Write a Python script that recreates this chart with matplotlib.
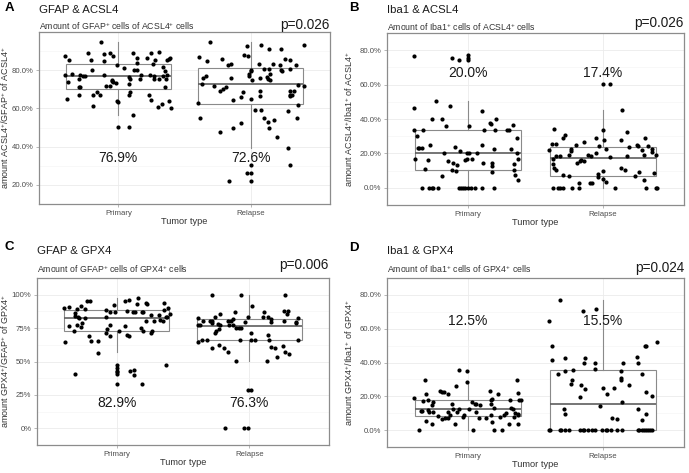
import matplotlib.pyplot as plt

plt.rcParams['font.family'] = ['Liberation Sans', 'DejaVu Sans']
plt.rcParams['mathtext.fontset'] = 'custom'
plt.rcParams['mathtext.rm'] = 'Liberation Sans'
plt.rcParams['mathtext.it'] = 'Liberation Sans:italic'
plt.rcParams['mathtext.bf'] = 'Liberation Sans:bold'

categories = ['Primary', 'Relapse']

# ---- A: GFAP & ACSL4 ----
a_pri_y = [95.0, 87.4, 85.6, 89.0, 85.6, 88.3, 84.8, 89.1, 87.4, 82.7,
           89.0, 86.4, 83.7, 86.4, 89.0, 85.6, 89.6, 83.2, 81.9, 85.6,
           86.1, 86.2, 78.2, 77.4, 73.6, 75.2, 77.6, 77.1, 76.8, 80.0,
           77.6, 75.0, 74.2, 73.9, 73.1, 72.0, 71.8, 81.1, 76.2, 75.5,
           72.6, 80.2, 80.0, 77.4, 75.2, 77.6, 75.2, 76.8, 75.2, 79.4,
           77.1, 75.5, 77.6, 71.0, 71.4, 71.0, 65.1, 66.9, 66.9, 68.6,
           66.9, 61.3, 64.0, 63.5, 66.9, 68.8, 66.9, 64.6, 60.6, 62.1,
           63.8, 60.0, 56.5, 50.1, 50.1]
a_pri_dx = [-0.13, -0.40, -0.37, -0.23, -0.21, -0.11, -0.11, -0.06, -0.04, -0.01,
            0.11, 0.14, 0.14, 0.22, 0.25, 0.28, 0.31, 0.26, 0.34, 0.37,
            0.38, 0.39, -0.35, -0.40, -0.38, -0.30, -0.29, -0.27, -0.25, -0.20,
            -0.11, -0.05, -0.05, -0.04, -0.02, -0.09, -0.06, 0.04, 0.08, 0.09,
            0.08, 0.12, 0.14, 0.17, 0.16, 0.24, 0.27, 0.27, 0.31, 0.35,
            0.34, 0.36, 0.37, 0.35, -0.30, -0.29, -0.39, -0.30, -0.19, -0.16,
            -0.14, -0.19, -0.01, 0.00, 0.08, 0.09, 0.23, 0.25, 0.30, 0.33,
            0.38, 0.40, 0.11, 0.00, 0.08]
a_rel_y = [94.7, 92.8, 93.1, 91.2, 90.9, 93.4, 86.9, 84.6, 85.9, 82.9,
           83.2, 88.0, 87.5, 83.4, 80.6, 80.8, 83.0, 82.7, 86.1, 85.6,
           80.5, 82.9, 80.2, 79.8, 80.3, 79.5, 78.2, 76.8, 75.0, 76.0,
           76.3, 75.5, 75.0, 78.2, 76.0, 77.1, 76.0, 72.8, 71.5, 69.3,
           70.4, 71.2, 68.8, 65.9, 64.3, 65.1, 69.0, 66.7, 69.3, 69.3,
           66.6, 66.9, 67.0, 72.3, 71.5, 61.9, 62.7, 59.2, 59.0, 58.9,
           55.0, 54.9, 53.1, 53.9, 49.9, 49.9, 52.3, 47.5, 55.0, 44.8,
           39.2, 30.6, 30.6, 26.1, 26.1, 21.9, 21.8]
a_rel_dx = [-0.31, -0.03, 0.08, 0.14, 0.23, 0.40, -0.39, -0.33, -0.22, -0.17,
            -0.15, -0.05, -0.02, 0.06, 0.10, 0.14, 0.17, 0.22, 0.26, 0.30,
            0.30, 0.34, 0.23, 0.24, 0.00, 0.00, -0.01, -0.01, 0.01, 0.07,
            0.12, 0.13, 0.15, 0.15, -0.36, -0.34, -0.15, -0.37, -0.28, -0.23,
            -0.21, -0.19, -0.06, -0.07, -0.13, 0.00, 0.07, 0.07, 0.30, 0.33,
            0.30, 0.30, 0.31, 0.36, 0.40, 0.36, -0.40, 0.03, 0.08, 0.28,
            -0.38, 0.10, 0.13, 0.18, 0.14, -0.13, -0.07, -0.23, 0.35, 0.20,
            0.28, 0.30, 0.00, -0.03, 0.00, -0.16, 0.00]

# ---- B: Iba1 & ACSL4 ----
b_pri_y = [76.9, 75.7, 74.5, 77.0, 75.5, 74.5, 50.4, 46.4, 47.8, 44.8,
           40.1, 40.1, 35.8, 35.8, 37.8, 37.1, 40.1, 33.8, 33.8, 33.6,
           33.4, 33.6, 33.8, 36.4, 30.3, 23.1, 23.1, 23.1, 25.1, 24.0,
           21.6, 25.1, 22.6, 29.0, 22.3, 20.3, 20.1, 20.1, 20.1, 20.1,
           16.8, 16.0, 15.8, 14.6, 13.1, 17.0, 16.3, 16.6, 14.3, 14.6,
           12.6, 9.3, 14.1, 16.8, 11.1, 10.1, 10.0, 10.1, 6.8, 7.2,
           4.8, 0, 0, 0, 0, 0, 0, 0, 0, 0,
           0, 0, 0, 0, 0]
b_pri_dx = [-0.40, -0.12, -0.07, 0.00, 0.00, 0.00, -0.24, -0.40, -0.13, 0.10,
            -0.27, -0.19, -0.16, 0.01, 0.16, 0.17, 0.21, -0.40, -0.33, 0.12,
            0.20, 0.29, 0.30, 0.33, -0.38, -0.37, -0.36, -0.34, -0.28, -0.10,
            -0.06, 0.10, 0.19, 0.36, 0.32, -0.18, -0.01, 0.01, 0.07, 0.36,
            -0.39, -0.30, -0.15, -0.11, -0.08, -0.01, -0.02, 0.03, 0.11, 0.18,
            0.18, 0.18, 0.34, 0.37, -0.32, -0.12, -0.09, 0.34, -0.19, 0.35,
            0.37, -0.34, -0.29, -0.27, -0.26, -0.22, -0.07, -0.05, -0.04, -0.02,
            0.00, 0.02, 0.05, 0.10, 0.19]
b_rel_y = [60.2, 60.2, 45.1, 33.9, 30.9, 28.8, 33.6, 29.0, 28.0, 26.8,
           27.6, 32.4, 29.1, 25.3, 25.3, 25.1, 24.1, 22.6, 23.8, 25.1,
           24.5, 22.1, 24.3, 22.6, 22.0, 22.3, 21.3, 18.5, 18.5, 18.8,
           19.0, 18.5, 20.1, 18.1, 18.6, 19.1, 19.3, 20.6, 16.5, 14.0,
           16.3, 15.6, 15.8, 14.3, 11.3, 10.5, 11.6, 10.3, 10.0, 9.0,
           7.0, 8.5, 7.3, 7.0, 8.2, 6.2, 5.2, 3.2, 4.7, 2.8,
           2.8, 2.8, 0, 0, 0, 0, 0, 0, 0, 0, 0, 0]
b_rel_dx = [0.00, 0.05, 0.14, -0.36, -0.28, -0.30, 0.00, -0.05, 0.01, -0.14,
            0.13, 0.18, 0.31, -0.38, -0.35, -0.20, -0.03, 0.02, 0.19, 0.25,
            0.26, 0.29, 0.33, 0.36, -0.40, -0.24, -0.24, -0.35, -0.32, -0.25,
            -0.11, -0.09, -0.05, 0.05, 0.18, 0.30, 0.39, 0.36, -0.37, -0.37,
            -0.16, -0.14, -0.17, -0.19, -0.36, -0.35, 0.13, 0.16, 0.00, 0.27,
            0.24, 0.38, -0.30, -0.25, -0.04, -0.04, 0.00, 0.02, 0.30, -0.18,
            -0.10, -0.08, -0.37, -0.33, -0.32, -0.30, -0.23, -0.18, 0.09, 0.32, 0.39, 0.40]

# ---- C: GFAP & GPX4 ----
c_pri_y = [95.4, 95.4, 95.2, 96.1, 97.6, 90.4, 91.0, 89.5, 91.5, 89.5,
           86.2, 84.1, 82.3, 83.4, 82.3, 88.9, 87.1, 92.4, 86.7, 83.2,
           88.0, 87.1, 86.7, 92.8, 87.1, 87.1, 93.9, 93.4, 84.6, 80.6,
           80.1, 85.0, 81.0, 80.6, 93.9, 88.9, 90.2, 85.2, 83.0, 83.2,
           76.2, 72.7, 77.5, 75.8, 79.0, 74.7, 77.3, 71.6, 69.4, 73.1,
           76.2, 69.9, 69.2, 75.1, 72.5, 72.5, 71.0, 64.8, 68.8, 65.3,
           65.3, 56.6, 47.4, 44.8, 43.0, 42.1, 40.4, 33.4, 42.6, 43.9,
           40.2, 33.4, 40.8, 47.4]
c_pri_dx = [-0.22, -0.20, 0.06, 0.09, 0.16, -0.40, -0.36, -0.30, -0.27, -0.24,
            -0.31, -0.31, -0.28, -0.29, -0.24, -0.08, -0.05, -0.02, -0.01, -0.08,
            0.08, 0.12, 0.14, 0.15, 0.19, 0.20, 0.22, 0.23, 0.26, 0.22,
            0.28, 0.32, 0.33, 0.35, 0.36, 0.36, 0.39, 0.40, 0.37, 0.38,
            -0.36, -0.32, -0.30, -0.27, -0.26, -0.07, -0.05, -0.08, -0.05, 0.02,
            0.06, 0.08, 0.09, 0.18, 0.20, 0.27, 0.26, -0.39, -0.21, -0.19,
            -0.14, -0.14, 0.00, 0.00, 0.00, 0.00, 0.00, 0.00, 0.10, 0.13,
            0.13, 0.19, -0.31, 0.37]
c_rel_y = [100.0, 99.8, 100.0, 91.9, 87.3, 85.8, 87.3, 87.6, 87.6, 85.6,
           82.8, 80.1, 80.1, 80.6, 83.4, 78.8, 78.2, 77.1, 80.4, 80.1,
           81.7, 77.1, 77.1, 75.1, 75.1, 75.1, 79.7, 83.0, 83.6, 83.6,
           81.9, 79.3, 80.1, 79.7, 78.8, 82.8, 77.5, 77.1, 73.1, 74.7,
           71.4, 71.4, 70.1, 64.6, 66.4, 66.4, 66.4, 66.4, 66.4, 66.4,
           66.4, 60.0, 62.7, 60.3, 57.4, 60.9, 60.0, 61.8, 57.0, 55.7,
           53.7, 50.2, 50.2, 28.6, 28.6, 0, 0, 0]
c_rel_dx = [-0.28, -0.06, 0.27, 0.02, -0.11, -0.22, 0.11, 0.26, 0.29, 0.28,
            -0.39, -0.35, -0.30, -0.28, -0.26, -0.28, -0.24, -0.22, -0.16, -0.14,
            -0.12, -0.15, -0.12, -0.10, -0.08, -0.06, -0.03, -0.01, 0.10, 0.14,
            0.16, 0.16, 0.26, 0.35, 0.35, 0.37, -0.39, -0.37, -0.25, -0.23,
            -0.26, 0.01, 0.14, -0.39, -0.36, -0.32, -0.07, 0.01, 0.04, 0.15,
            0.37, -0.28, -0.23, -0.19, -0.16, 0.16, 0.19, 0.25, 0.27, 0.30,
            0.21, -0.10, 0.13, -0.01, 0.01, -0.18, -0.04, -0.01]

# ---- D: Iba1 & GPX4 ----
d_pri_y = [35.3, 35.0, 29.6, 28.3, 29.6, 25.9, 23.3, 22.6, 22.4, 21.1,
           23.3, 21.4, 22.1, 18.7, 21.1, 17.4, 18.1, 16.6, 15.1, 11.2,
           11.4, 12.1, 11.0, 10.9, 5.2, 3.8, 8.5, 6.5, 6.9, 10.9,
           7.0, 8.7, 15.6, 12.6, 3.7, 10.9, 12.4, 7.9, 8.9, 12.4,
           16.6, 15.7, 15.4, 14.7, 10.9, 6.9, 6.9, 8.7, 13.1, 17.9,
           18.4, 15.7, 4.9, 7.5, 8.9, 10.4, 18.1, 13.2, 12.6, 8.0,
           10.4, 9.4, 8.7, 3.7, 17.7, 17.7, 3.5, 0, 0, 0,
           0]
d_pri_dx = [-0.07, -0.01, -0.32, -0.01, 0.36, -0.09, -0.21, -0.19, -0.18, -0.15,
            0.16, 0.22, 0.37, -0.40, -0.31, -0.33, -0.30, -0.26, -0.27, -0.35,
            -0.34, -0.30, -0.29, -0.26, -0.31, -0.27, -0.22, -0.19, -0.17, -0.15,
            -0.15, -0.13, -0.12, -0.11, -0.10, -0.08, -0.07, -0.04, -0.03, 0.01,
            0.03, 0.05, 0.06, 0.09, 0.06, 0.08, 0.13, 0.17, 0.19, 0.17,
            0.18, 0.17, 0.18, 0.24, 0.27, 0.28, 0.31, 0.32, 0.33, 0.34,
            0.35, 0.37, 0.37, 0.37, 0.38, 0.39, 0.30, -0.36, 0.04, 0.19,
            0.25]
d_rel_y = [76.8, 70.6, 71.6, 64.6, 50.0, 41.5, 42.7, 42.7, 40.0, 40.0,
           36.3, 33.0, 35.0, 35.6, 29.6, 27.4, 26.9, 24.6, 19.6, 12.4,
           9.7, 14.2, 24.8, 21.1, 24.8, 6.9, 6.4, 30.8, 29.8, 35.0,
           16.6, 40.0, 26.6, 43.0, 40.0, 33.3, 50.0, 50.0, 52.1, 22.3,
           19.9, 12.4, 5.7, 9.7, 0, 0, 0, 0, 0, 0,
           0, 0, 0, 0, 0, 0, 0, 0, 0, 0,
           0, 0, 0, 0, 0, 0, 0, 0, 0, 0]
d_rel_dx = [-0.32, -0.15, -0.05, -0.40, -0.38, -0.38, -0.28, -0.13, -0.14, -0.06,
            -0.06, -0.33, -0.28, -0.22, -0.23, -0.24, -0.16, -0.13, -0.17, -0.29,
            -0.28, -0.02, 0.00, 0.03, 0.08, 0.07, 0.10, 0.13, 0.13, 0.13,
            0.14, 0.15, 0.19, 0.25, 0.26, 0.29, 0.31, 0.32, 0.40, 0.32,
            0.36, 0.26, 0.29, 0.32, -0.40, -0.39, -0.32, -0.31, -0.28, -0.25,
            -0.17, -0.15, -0.14, -0.11, -0.08, -0.06, -0.01, 0.02, 0.03, 0.06,
            0.10, 0.14, 0.26, 0.27, 0.29, 0.30, 0.32, 0.33, 0.35, 0.36]

# box statistics: q1, median, q3, lower whisker, upper whisker
a_box = [[70.4, 76.9, 83.5, 56.5, 95.0], [62.4, 72.6, 81.3, 39.2, 94.7]]
b_box = [[10.1, 20.0, 33.4, 0.0, 50.4], [6.8, 17.4, 24.0, 0.0, 45.1]]
c_box = [[72.9, 82.9, 88.9, 57.0, 97.6], [66.4, 76.3, 81.7, 50.2, 100.0]]
d_box = [[8.5, 12.5, 17.9, 0.0, 28.6], [0.0, 15.5, 35.3, 0.0, 76.8]]

median_labels = [['76.9%', '72.6%'], ['20.0%', '17.4%'], ['82.9%', '76.3%'], ['12.5%', '15.5%']]
p_values = ['p=0.026', 'p=0.026', 'p=0.006', 'p=0.024']
letters = ['A', 'B', 'C', 'D']
titles = ['GFAP & ACSL4', 'Iba1 & ACSL4', 'GFAP & GPX4', 'Iba1 & GPX4']
subtitles = [r'Amount of GFAP$^{+}$ cells of ACSL4$^{+}$ cells',
             r'Amount of Iba1$^{+}$ cells of ACSL4$^{+}$ cells',
             r'Amount of GFAP$^{+}$ cells of GPX4$^{+}$ cells',
             r'Amount of Iba1$^{+}$ cells of GPX4$^{+}$ cells']
ylabels = [r'amount ACSL4$^{+}$/GFAP$^{+}$ of ACSL4$^{+}$',
           r'amount ACSL4$^{+}$/Iba1$^{+}$ of ACSL4$^{+}$',
           r'amount GPX4$^{+}$/GFAP$^{+}$ of GPX4$^{+}$',
           r'amount GPX4$^{+}$/Iba1$^{+}$ of GPX4$^{+}$']

W, H = 689, 473
fig = plt.figure(figsize=(W / 100, H / 100), dpi=100)


def px(x, y):
    return x / W, 1 - y / H


# layout in pixels: left, top, right, bottom of each panel
rects = [(39, 32, 330, 204), (387, 33, 684, 205), (37, 278, 329, 445), (387, 278, 684, 447)]
corner = [(9, 8), (354, 8), (9, 247), (354, 248)]
title_y = [10, 10, 251, 251]
subtitle_y = [26, 27, 269, 269]
pval_y = [25, 23, 265, 268]
ylims = [(17.6, 100), (-3.5, 82.2), (-5, 104.5), (-4.0, 81.0)]
yticks = [[20, 40, 60, 80], [0, 20, 40, 60, 80], [0, 25, 50, 75, 100], [0, 20, 40, 60, 80]]
label_y = [34.2, 66.9, 19.0, 64.3]

data = [(a_pri_y, a_pri_dx, a_rel_y, a_rel_dx, a_box),
        (b_pri_y, b_pri_dx, b_rel_y, b_rel_dx, b_box),
        (c_pri_y, c_pri_dx, c_rel_y, c_rel_dx, c_box),
        (d_pri_y, d_pri_dx, d_rel_y, d_rel_dx, d_box)]

for i, (pri_y, pri_dx, rel_y, rel_dx, box) in enumerate(data):
    l, t, r, b = rects[i]
    ax = fig.add_axes([l / W, 1 - b / H, (r - l) / W, (b - t) / H])

    stats = []
    for s in box:
        stats.append({'q1': s[0], 'med': s[1], 'q3': s[2], 'whislo': s[3], 'whishi': s[4], 'fliers': []})
    ax.bxp(stats, positions=[1, 2], widths=0.79, showfliers=False, showcaps=False,
           patch_artist=True,
           boxprops=dict(facecolor='white', edgecolor='#8a8a8a', lw=0.8),
           medianprops=dict(color='#5e5e5e', lw=1.2),
           whiskerprops=dict(color='#8a8a8a', lw=0.8))

    ax.scatter([1 + d for d in pri_dx], pri_y, s=9, color='black', lw=0, zorder=4)
    ax.scatter([2 + d for d in rel_dx], rel_y, s=9, color='black', lw=0, zorder=4)

    ax.set_xlim(0.4, 2.6)
    ax.set_ylim(*ylims[i])

    # grid
    ticks = yticks[i]
    step = ticks[1] - ticks[0]
    minor = [v + step / 2 for v in [ticks[0] - step] + ticks]
    ax.set_yticks(ticks)
    ax.set_yticks(minor, minor=True)
    ax.set_xticks([1, 2])
    ax.set_xticklabels(categories)
    ax.grid(True, which='major', color='#ebebeb', lw=0.6)
    ax.grid(True, which='minor', axis='y', color='#f4f4f4', lw=0.4)
    ax.set_axisbelow(True)
    if i == 2:
        ax.set_yticklabels([f'{v:.0f}%' for v in ticks])
    else:
        ax.set_yticklabels([f'{v:.1f}%' for v in ticks])
    ax.tick_params(axis='both', which='major', labelsize=5.6, labelcolor='#4d4d4d',
                   color='#9a9a9a', length=2, width=0.5, pad=2)
    ax.tick_params(axis='y', which='minor', length=0)
    for sp in ax.spines.values():
        sp.set_color('#8c8c8c')
        sp.set_linewidth(0.9)

    for k in range(2):
        ax.text(k + 1, label_y[i], median_labels[i][k], ha='center', va='center',
                fontsize=10, color='#1a1a1a', zorder=5)

    # texts around the panel
    cy = (t + b) / 2
    cx = (l + r) / 2
    ox = 0 if i % 2 == 0 else 344
    fig.text(*px(*corner[i]), letters[i], fontsize=9.5, fontweight='bold', ha='center', va='center')
    fig.text(*px(l, title_y[i]), titles[i], fontsize=8.2, ha='left', va='center', color='#1a1a1a')
    fig.text(*px(l, subtitle_y[i]), subtitles[i], fontsize=6.3, ha='left', va='center', color='#333333')
    fig.text(*px(r, pval_y[i]), p_values[i], fontsize=9.8, ha='right', va='center', color='#1a1a1a')
    fig.text(*px(ox + 5, cy), ylabels[i], fontsize=6.5, rotation=90, ha='center', va='center',
             color='#333333')
    fig.text(*px(cx, b + 17), 'Tumor type', fontsize=6.7, ha='center', va='center', color='#333333')

fig.savefig('out.png', dpi=100)
